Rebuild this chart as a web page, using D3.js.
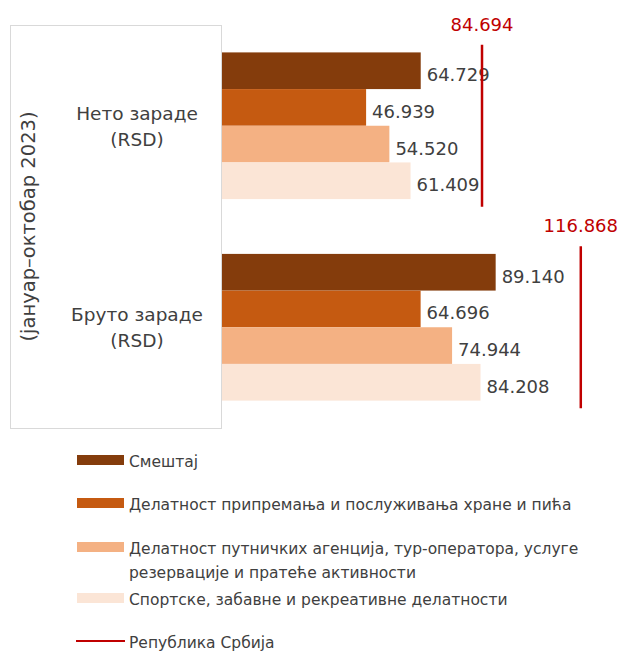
<!DOCTYPE html>
<html><head><meta charset="utf-8">
<script src="https://cdn.jsdelivr.net/npm/d3@7"></script>
<style>
body{margin:0;background:#fff;}
svg{display:block;font-family:"DejaVu Sans",sans-serif;}
</style></head><body>
<svg id="c" width="623" height="651"></svg>
<script>
const categories = ["Нето зараде (RSD)", "Бруто зараде (RSD)"];
const seriesNames = [
  "Смештај",
  "Делатност припремања и послуживања хране и пића",
  "Делатност путничких агенција, тур-оператора, услуге резервације и пратеће активности",
  "Спортске, забавне и рекреативне делатности"
];
const smestaj = [64729, 89140];
const hrana = [46939, 64696];
const agencije = [54520, 74944];
const sport = [61409, 84208];
const srbija = [84694, 116868];
const srbijaName = "Република Србија";
const axisTitle = "(јануар–октобар 2023)";

const colors = ["#843C0C", "#C55A11", "#F4B183", "#FBE5D6"];
const redColor = "#C00000";
const textColor = "#404040";
const fmt = v => d3.format(",")(v).replace(/,/g, ".");

const svg = d3.select("#c");
const values = [smestaj, hrana, agencije, sport];

const x = d3.scaleLinear().domain([0, 120000]).range([222, 222 + 368.4]);
const yBand = d3.scaleBand().domain(categories).range([25, 428]);
const inner = d3.scaleBand().domain(d3.range(seriesNames.length))
  .range([0, yBand.bandwidth() * 0.728]);
const innerOff = (yBand.bandwidth() - inner.range()[1]) / 2;

// frame box
svg.append("rect").attr("x", 10.5).attr("y", 25.5).attr("width", 211).attr("height", 403)
  .attr("fill", "none").attr("stroke", "#d9d9d9").attr("stroke-width", 1);

// bars
categories.forEach((cat, ci) => {
  const g = svg.append("g");
  values.forEach((arr, si) => {
    const y0 = yBand(cat) + innerOff + inner(si);
    g.append("rect").attr("x", x(0)).attr("y", y0)
      .attr("width", x(arr[ci]) - x(0)).attr("height", inner.bandwidth())
      .attr("fill", colors[si]);
  });
  values.forEach((arr, si) => {
    const y0 = yBand(cat) + innerOff + inner(si);
    g.append("text").attr("x", x(arr[ci]) + 6).attr("y", y0 + inner.bandwidth() / 2)
      .attr("dy", "0.58em").attr("font-size", 18).attr("fill", textColor)
      .text(fmt(arr[ci]));
  });
  // republic line
  const cy = yBand(cat) + yBand.bandwidth() / 2;
  svg.append("line").attr("x1", x(srbija[ci])).attr("x2", x(srbija[ci]))
    .attr("y1", cy - 81).attr("y2", cy + 81)
    .attr("stroke", redColor).attr("stroke-width", 2.5);
  svg.append("text").attr("x", x(srbija[ci])).attr("y", cy - 95)
    .attr("text-anchor", "middle").attr("font-size", 18).attr("fill", redColor)
    .text(fmt(srbija[ci]));
  // category label
  const parts = cat.split(" (");
  const t = svg.append("text").attr("x", 137).attr("y", cy - 6)
    .attr("text-anchor", "middle").attr("font-size", 18.5).attr("fill", textColor);
  t.append("tspan").attr("x", 137).attr("dy", 0).text(parts[0]);
  t.append("tspan").attr("x", 137).attr("dy", 26).text("(" + parts[1]);
});

// rotated axis title
svg.append("text").attr("transform", `translate(35,${(25 + 428) / 2}) rotate(-90)`)
  .attr("text-anchor", "middle").attr("font-size", 19.5).attr("fill", textColor)
  .text(axisTitle);

// legend
const legendRows = [
  {lines: [seriesNames[0]], y: 460, type: "bar", color: colors[0]},
  {lines: [seriesNames[1]], y: 503, type: "bar", color: colors[1]},
  {lines: ["Делатност путничких агенција, тур-оператора, услуге", "резервације и пратеће активности"], y: 547, type: "bar", color: colors[2]},
  {lines: [seriesNames[3]], y: 598, type: "bar", color: colors[3]},
  {lines: [srbijaName], y: 641, type: "line", color: redColor}
];
legendRows.forEach(r => {
  if (r.type === "bar") {
    svg.append("rect").attr("x", 77).attr("y", r.y - 5).attr("width", 47).attr("height", 10).attr("fill", r.color);
  } else {
    svg.append("line").attr("x1", 76).attr("x2", 125).attr("y1", r.y).attr("y2", r.y)
      .attr("stroke", r.color).attr("stroke-width", 2);
  }
  const t = svg.append("text").attr("x", 129).attr("y", r.y + 7)
    .attr("font-size", 15.5).attr("fill", textColor);
  r.lines.forEach((l, i) => t.append("tspan").attr("x", 129).attr("dy", i ? 24 : 0).text(l));
});
</script>
</body></html>
